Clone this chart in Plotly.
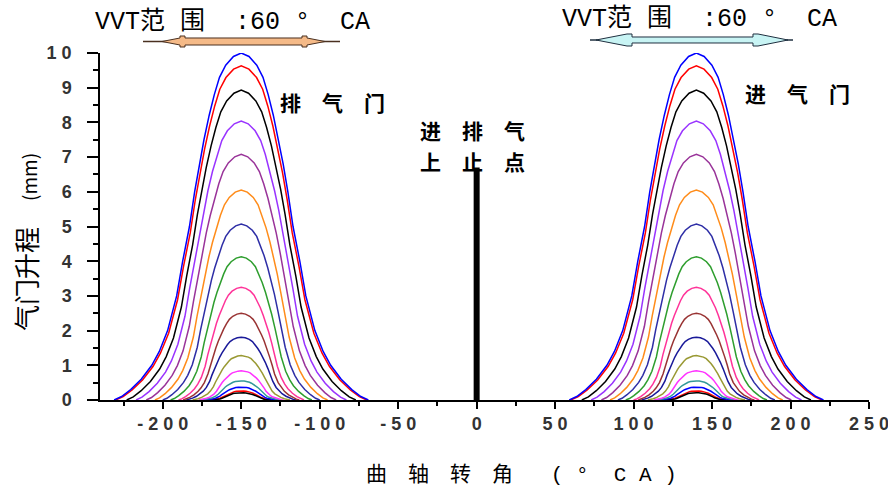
import plotly.graph_objects as go

# ---------------- data ----------------
exhaust_center = -150.0
intake_center = 140.0

colors = ["#0000FF", "#FF0000", "#000000", "#9933FF", "#993399", "#FF8C1A",
          "#2E2EA6", "#2E9E2E", "#FF3399", "#993333", "#1A1A99", "#999933",
          "#FF33FF", "#339999", "#0000FF", "#000000", "#FF0000"]
peaks = [10.0, 9.63, 8.93, 8.04, 7.08, 6.05, 5.07, 4.13, 3.25, 2.50,
         1.81, 1.28, 0.84, 0.55, 0.37, 0.21, 0.26]
foot_half = [81, 80, 73, 67, 60.5, 55, 50, 45, 40, 37, 35, 31, 27, 25.6, 23.7, 19, 21]
hm_half = [33, 32.5, 31, 29.5, 27.5, 25.5, 23.5, 21.5, 19.5, 18, 17, 15, 13.5,
           12.5, 11.5, 10, 10.5]

# normalised lift profile read from the outer (blue) curve
upper_frac = [1.0, 0.99, 0.965, 0.93, 0.88, 0.82, 0.75, 0.68, 0.6, 0.5]
upper_u = [0.0, 0.15, 0.3, 0.42, 0.52, 0.62, 0.72, 0.81, 0.9, 1.0]
tail_frac = [0.4, 0.3, 0.2, 0.14, 0.1, 0.06, 0.03, 0.01, 0.0]
tail_t = [0.09, 0.17, 0.29, 0.4, 0.5, 0.64, 0.78, 0.9, 1.0]

tdc_x = [0, 0]
tdc_y = [0, 6.7]

x_tickvals = [-200, -150, -100, -50, 0, 50, 100, 150, 200, 250]
x_ticktext = ["- 2 0 0", "- 1 5 0", "- 1 0 0", "- 5 0", "0", "5 0", "1 0 0",
              "1 5 0", "2 0 0", "2 5 0"]
y_tickvals = list(range(0, 11))
y_ticktext = [str(v) for v in range(0, 10)] + ["1 0"]

# ---------------- build figure ----------------
W, H = 888, 487
L, R, T, B = 100, 19, 53, 87
PW, PH = W - L - R, H - T - B


def px(xp):
    return (xp - L) / PW


def py(yp):
    return (H - B - yp) / PH


def half_profile(i):
    offs = [u * hm_half[i] for u in upper_u]
    fr = list(upper_frac)
    offs += [hm_half[i] + t * (foot_half[i] - hm_half[i]) for t in tail_t]
    fr += tail_frac
    return offs, fr


fig = go.Figure()
order = list(range(len(peaks)))[::-1]
for i in order:
    offs, fr = half_profile(i)
    xs, ys = [], []
    for c in (exhaust_center, intake_center):
        left_x = [c - o for o in offs[::-1]]
        left_y = [peaks[i] * f for f in fr[::-1]]
        right_x = [c + o for o in offs[1:]]
        right_y = [peaks[i] * f for f in fr[1:]]
        xs += left_x + right_x + [None]
        ys += left_y + right_y + [None]
    fig.add_trace(go.Scatter(x=xs, y=ys, mode="lines",
                             line=dict(color=colors[i], width=1.5),
                             hoverinfo="skip", showlegend=False))

fig.add_trace(go.Scatter(x=tdc_x, y=tdc_y, mode="lines",
                         line=dict(color="black", width=6), showlegend=False))

tickfont = dict(family="Liberation Sans", size=18, color="#333333", weight="bold")
fig.update_xaxes(range=[-240, 250], tickvals=x_tickvals, ticktext=x_ticktext,
                 showgrid=False, zeroline=False, showline=True, linecolor="black",
                 linewidth=1.5, ticks="outside", ticklen=7, tickwidth=1.5,
                 tickcolor="black", tickfont=tickfont, ticklabeloverflow="allow",
                 automargin=False,
                 minor=dict(dtick=25, tick0=0, ticks="outside", ticklen=4,
                            tickwidth=1.5, tickcolor="black", showgrid=False))
fig.update_yaxes(range=[0, 10], tickvals=y_tickvals, ticktext=y_ticktext,
                 showgrid=False, zeroline=False, showline=True, linecolor="black",
                 linewidth=1.5, ticks="outside", ticklen=11, tickwidth=1.5,
                 tickcolor="black", tickfont=tickfont, ticklabelstandoff=12,
                 automargin=False,
                 minor=dict(dtick=0.5, tick0=0, ticks="outside", ticklen=5,
                            tickwidth=1.5, tickcolor="black", showgrid=False))

mono = "Liberation Mono, Noto Sans CJK SC"
cjk = "Noto Sans CJK SC"
ann = []


def add_text(text, xp, yp, family, size, angle=0):
    ann.append(dict(text=text, x=px(xp), y=py(yp), xref="paper", yref="paper",
                    xanchor="center", yanchor="middle", showarrow=False,
                    textangle=angle, font=dict(family=family, size=size, color="black")))


add_text("VVT范 围  :60 °  CA", 232, 22, mono, 25)
add_text("VVT范 围  :60 °  CA", 699, 19, mono, 25)
add_text("<b>排\u3000气\u3000门</b>", 332, 102, cjk, 21)
add_text("<b>进\u3000气\u3000门</b>", 797, 93, cjk, 21)
add_text("<b>进\u3000排\u3000气</b>", 472, 130, cjk, 21)
add_text("<b>上\u3000止\u3000点</b>", 472, 161, cjk, 21)
add_text("曲\u3000轴\u3000转\u3000角   ( °  C A )", 521, 475, mono, 21)
add_text('气门升程\u3000<span style="font-size:19px">(mm)</span>', 25, 242, cjk, 26, angle=-90)

fig.update_layout(annotations=ann)


def poly(points):
    return "M " + " L ".join(f"{px(a):.5f},{py(b):.5f}" for a, b in points) + " Z"


shapes = []
# left (exhaust) VVT range arrow
yc = 41.5
shapes.append(dict(type="line", xref="paper", yref="paper", x0=px(143), x1=px(340),
                   y0=py(yc), y1=py(yc), line=dict(color="#4a3020", width=1.5)))
left_pts = [(162, yc), (180, yc - 3.5), (180, yc - 5.5), (185, yc - 5.5), (185, yc - 3.5),
            (302, yc - 3.5), (302, yc - 5.5), (307, yc - 5.5), (307, yc - 3.5), (325, yc),
            (307, yc + 3.5), (307, yc + 5.5), (302, yc + 5.5), (302, yc + 3.5),
            (185, yc + 3.5), (185, yc + 5.5), (180, yc + 5.5), (180, yc + 3.5)]
shapes.append(dict(type="path", xref="paper", yref="paper", path=poly(left_pts),
                   fillcolor="#F5BA88", line=dict(color="#4a3020", width=1)))
# right (intake) VVT range arrow
yc2 = 40
shapes.append(dict(type="line", xref="paper", yref="paper", x0=px(590), x1=px(793),
                   y0=py(yc2), y1=py(yc2), line=dict(color="#203040", width=1.5)))
right_pts = [(596, yc2), (627, yc2 - 6), (632, yc2 - 6), (632, yc2 - 3), (753, yc2 - 3),
             (753, yc2 - 6), (758, yc2 - 6), (788, yc2), (758, yc2 + 6), (753, yc2 + 6),
             (753, yc2 + 3), (632, yc2 + 3), (632, yc2 + 6), (627, yc2 + 6)]
shapes.append(dict(type="path", xref="paper", yref="paper", path=poly(right_pts),
                   fillcolor="#C8F4F4", line=dict(color="#203040", width=1)))

fig.update_layout(shapes=shapes, width=W, height=H,
                  margin=dict(l=L, r=R, t=T, b=B),
                  paper_bgcolor="white", plot_bgcolor="white")

fig.write_html("out.html")
